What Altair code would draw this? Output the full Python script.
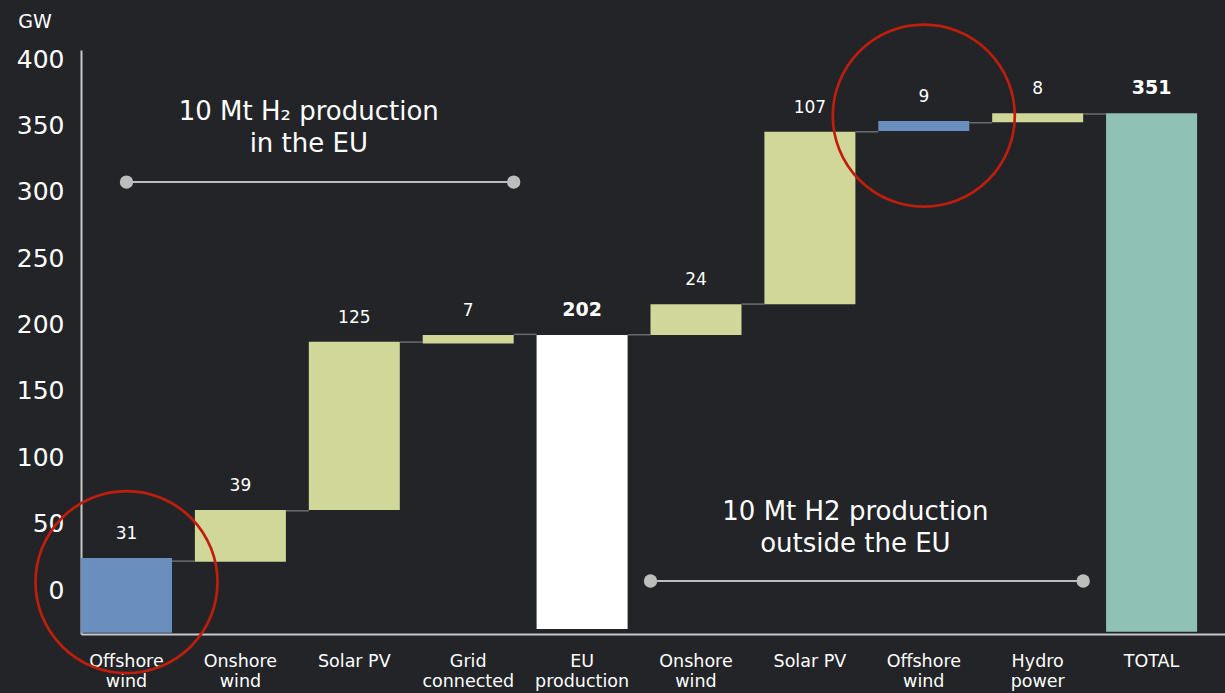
import json
import altair as alt
import pandas as pd

# ---------------- data ----------------
idx = list(range(10))
labels = ["Offshore|wind", "Onshore|wind", "Solar PV", "Grid|connected", "EU|production",
          "Onshore|wind", "Solar PV", "Offshore|wind", "Hydro|power", "TOTAL"]
kinds = ["offshore", "step", "step", "step", "eu", "step", "step", "offshore", "step", "total"]
values = [31, 39, 125, 7, 202, 24, 107, 9, 8, 351]
# bar extents as drawn, read against the printed GW axis
bar_low = [-32.2, 21.3, 60.3, 185.8, -29.4, 192.1, 215.2, 345.8, 352.3, -31.4]
bar_high = [24.1, 60.3, 187.0, 192.1, 192.1, 215.2, 345.2, 353.3, 359.1, 359.1]
connector_level = [21.8, 59.7, 186.8, 192.6, 192.3, 215.4, 345.2, 352.0, 358.6]
y_ticks = [0, 50, 100, 150, 200, 250, 300, 350, 400]

circle_idx = [0, 7]
circle_level = [6.0, 357.3]

bracket_from = [0, 5]
bracket_to = [3, 8]
bracket_level = [307.3, 6.8]

ann_text = ["10 Mt H\u2082 production\nin the EU", "10 Mt H2 production\noutside the EU"]
ann_idx = [2, 6]
ann_level = [353.7, 52.4]

# ---------------- styling ----------------
BG = "#232428"
FONT = "DejaVu Sans"
W, H = 1144, 584
Y_DOMAIN = [-33.1, 406.8]

x_scale = alt.Scale(domain=idx, paddingInner=0.201, paddingOuter=0.1225, align=0, round=False)
y_scale = alt.Scale(domain=Y_DOMAIN, nice=False, zero=False)

label_expr = "split(" + json.dumps(labels) + "[datum.value], '|')"

x_axis = alt.Axis(title=None, labelExpr=label_expr, labelAngle=0, labelColor="white",
                  labelFont=FONT, labelFontSize=17.5, labelLineHeight=20, labelPadding=18,
                  labelBaseline="top", ticks=False, tickSize=0, grid=False,
                  domainColor="#c8c8c8", domainWidth=2, labelOverlap=False,
                  labelBound=False, labelFlush=False)
y_axis = alt.Axis(values=y_ticks, ticks=False, tickSize=0, grid=False, labelColor="white",
                  labelFont=FONT, labelFontSize=25, labelPadding=17, labelAlign="right",
                  domainColor="#c8c8c8", domainWidth=2,
                  title="GW", titleAngle=0, titleX=-46.5, titleY=-29, titleAlign="center",
                  titleBaseline="middle", titleFont=FONT, titleFontSize=19,
                  titleFontWeight="normal", titleColor="white")


def xenc(field, bp=0.5):
    return alt.X(f"{field}:O", scale=x_scale, axis=x_axis, bandPosition=bp)


def yenc(field):
    return alt.Y(f"{field}:Q", scale=y_scale, axis=y_axis)


bars_df = pd.DataFrame({"idx": idx, "kind": kinds, "value": values,
                        "low": bar_low, "high": bar_high})
conn_df = pd.DataFrame({"idx": idx[:-1], "nxt": idx[1:], "level": connector_level})

bars = alt.Chart(bars_df).mark_bar().encode(
    x=alt.X("idx:O", scale=x_scale, axis=x_axis),
    y=yenc("low"),
    y2="high:Q",
    color=alt.Color("kind:N", legend=None,
                    scale=alt.Scale(domain=["offshore", "step", "eu", "total"],
                                    range=["#6a8fbe", "#d1d699", "#ffffff", "#8fc1b4"])),
)

connectors = alt.Chart(conn_df).mark_rule(color="#6c6c6c", strokeWidth=1.5).encode(
    x=xenc("idx", 1),
    x2=alt.X2("nxt:O", bandPosition=0),
    y=yenc("level"),
)

labels_norm = alt.Chart(bars_df).transform_filter(
    "datum.kind == 'offshore' || datum.kind == 'step'"
).mark_text(color="white", font=FONT, fontSize=17, dy=-24, baseline="middle").encode(
    x=xenc("idx"), y=yenc("high"), text="value:Q")

labels_bold = alt.Chart(bars_df).transform_filter(
    "datum.kind == 'eu' || datum.kind == 'total'"
).mark_text(color="white", font=FONT, fontSize=19, fontWeight="bold", dy=-25,
            baseline="middle").encode(
    x=xenc("idx"), y=yenc("high"), text="value:Q")

circles = alt.Chart(pd.DataFrame({"idx": circle_idx, "level": circle_level})).mark_point(
    shape="circle", filled=False, size=182 * 182, color="#c01e0c", strokeWidth=2.7, opacity=1
).encode(x=xenc("idx"), y=yenc("level"))

layers = [bars, connectors, labels_norm, labels_bold]

start_bp = [0.5, 0]
for i in range(len(bracket_from)):
    bdf = pd.DataFrame({"a": [bracket_from[i]], "b": [bracket_to[i]], "level": [bracket_level[i]]})
    base = alt.Chart(bdf)
    layers.append(base.mark_rule(color="#bdbdbd", strokeWidth=2).encode(
        x=xenc("a", start_bp[i]), x2=alt.X2("b:O", bandPosition=1), y=yenc("level")))
    layers.append(base.mark_point(shape="circle", filled=True, size=180, color="#bdbdbd",
                                  opacity=1).encode(x=xenc("a", start_bp[i]), y=yenc("level")))
    layers.append(base.mark_point(shape="circle", filled=True, size=180, color="#bdbdbd",
                                  opacity=1).encode(x=xenc("b", 1), y=yenc("level")))

ann_bp = [0, 1]
for i in range(len(ann_text)):
    adf = pd.DataFrame({"idx": [ann_idx[i]], "level": [ann_level[i]], "t": [ann_text[i]]})
    layers.append(alt.Chart(adf).mark_text(
        color="white", font=FONT, fontSize=26, lineBreak="\n", lineHeight=32,
        align="center", baseline="alphabetic"
    ).encode(x=xenc("idx", ann_bp[i]), y=yenc("level"), text="t:N"))

layers.append(circles)

chart = alt.layer(*layers).properties(
    width=W, height=H, background=BG,
    padding={"left": 81, "top": 50, "right": 0, "bottom": 59},
    autosize=alt.AutoSizeParams(type="none"),
).configure_view(stroke=None)

chart.save("out.html", embed_options={"renderer": "svg", "actions": False})
